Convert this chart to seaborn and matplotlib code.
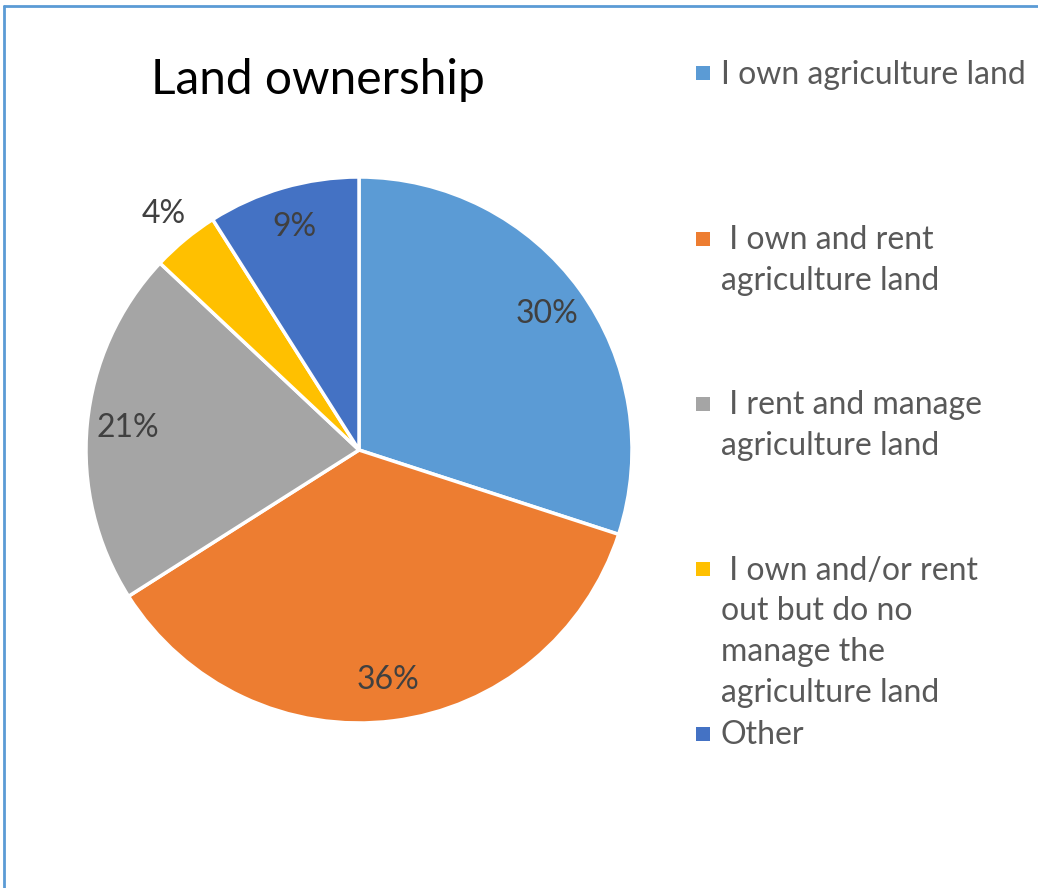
import matplotlib
matplotlib.use("Agg")
import matplotlib.pyplot as plt
import seaborn as sns
import numpy as np
from matplotlib.lines import Line2D
from matplotlib.patches import Rectangle

# ---- data ----
categories = [
    "I own agriculture land",
    " I own and rent\nagriculture land",
    " I rent and manage\nagriculture land",
    " I own and/or rent\nout but do no\nmanage the\nagriculture land",
    "Other",
]
values = [30, 36, 21, 4, 9]
colors = ["#5B9BD5", "#ED7D31", "#A5A5A5", "#FFC000", "#4472C4"]
title = "Land ownership"

sns.set_theme(style="white")
plt.rcParams["font.family"] = ["Lato", "DejaVu Sans"]

W, H = 1038, 888
fig = plt.figure(figsize=(W / 100, H / 100), dpi=100)
fig.patch.set_facecolor("white")

# pie axes: center (359,450), radius 273 px
cx, cy, r = 359, 450, 273
ax = fig.add_axes([(cx - r) / W, (H - cy - r) / H, 2 * r / W, 2 * r / H])
wedges, texts, autotexts = ax.pie(
    values,
    colors=colors,
    startangle=90,
    counterclock=False,
    autopct="%1.0f%%",
    pctdistance=0.85,
    wedgeprops=dict(edgecolor="white", linewidth=2.5),
    textprops=dict(fontsize=23, color="#404040"),
    radius=1.0,
)
ax.set_xlim(-1, 1)
ax.set_ylim(-1, 1)
ax.set_aspect("equal")
ax.axis("off")

# move small-slice label outside
for w, t, v in zip(wedges, autotexts, values):
    if v < 5:
        ang = np.deg2rad((w.theta1 + w.theta2) / 2)
        t.set_position((1.12 * np.cos(ang), 1.12 * np.sin(ang)))

# title
fig.text(318 / W, 1 - 80 / H, title, ha="center", va="center", fontsize=34.5, color="black")

# legend (manual, Excel-like even spacing by first line)
leg_x_marker = 696
leg_x_text = 721
line_px = 41
baselines = [83.5, 249, 414, 579, 744]
for lab, col, yb in zip(categories, colors, baselines):
    fig.add_artist(Rectangle((leg_x_marker / W, 1 - (yb - 3) / H), 14 / W, 14 / H,
                             transform=fig.transFigure, facecolor=col, edgecolor="none"))
    nl = lab.count("\n")
    fig.text(leg_x_text / W, 1 - (yb + nl * line_px) / H, lab, ha="left", va="baseline",
             fontsize=23, color="#595959", linespacing=1.45)

# frame lines (top and left only)
fig.add_artist(Line2D([4 / W, 1], [1 - 6 / H, 1 - 6 / H], transform=fig.transFigure,
                      color="#5B9BD5", linewidth=2))
fig.add_artist(Line2D([4 / W, 4 / W], [0, 1 - 6 / H], transform=fig.transFigure,
                      color="#5B9BD5", linewidth=2))

fig.savefig("out.png", dpi=100, facecolor="white")
